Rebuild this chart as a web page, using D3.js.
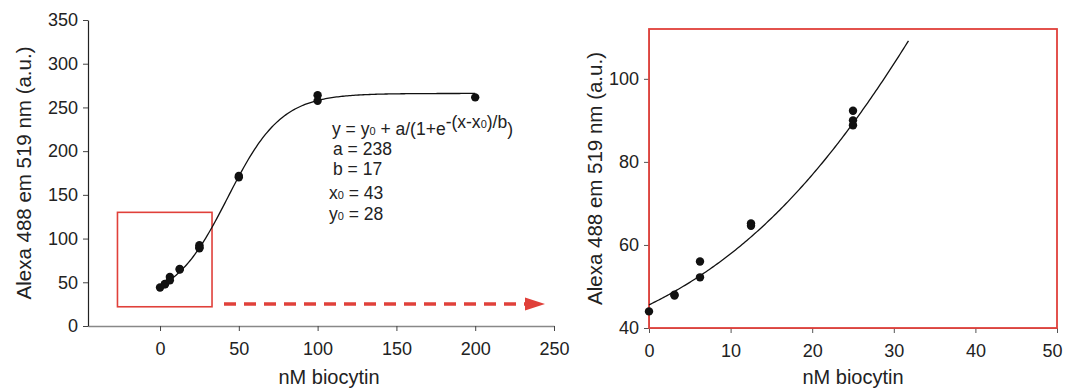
<!DOCTYPE html>
<html><head><meta charset="utf-8">
<script src="https://cdn.jsdelivr.net/npm/d3@7"></script>
<style>
html,body{margin:0;padding:0;background:#fff;}
svg{display:block;}
text{font-family:"Liberation Sans",Arial,Helvetica,sans-serif;fill:#222;}
</style></head>
<body>
<svg id="c" width="1065" height="388"></svg>
<script>
// ---- data ----
const xValues = [0, 3.125, 3.125, 6.25, 6.25, 12.5, 12.5, 25, 25, 25, 50, 50, 100, 100, 200];
const yValues = [44, 48, 47.8, 56, 52.2, 65.2, 64.6, 92.3, 90, 88.8, 170, 171.5, 264, 257.5, 261.5];
const fitParams = {a: 238, b: 17, x0: 43, y0: 28};
const leftXTicks = [0, 50, 100, 150, 200, 250];
const leftYTicks = [0, 50, 100, 150, 200, 250, 300, 350];
const rightXTicks = [0, 10, 20, 30, 40, 50];
const rightYTicks = [40, 60, 80, 100];
const zoomBox = {x1: -27, x2: 33, y1: 22, y2: 130};
const eqLines = ["a = 238", "b = 17"];
const xLabel = "nM biocytin";
const yLabel = "Alexa 488 em 519 nm (a.u.)";

const fit = x => fitParams.y0 + fitParams.a / (1 + Math.exp(-(x - fitParams.x0) / fitParams.b));

const svg = d3.select("#c");
const red = "#e0403a";

// ---- left chart ----
const L = {left: 88, right: 554, top: 20, bottom: 326};
const xL = d3.scaleLinear().domain([-45.7, 250]).range([L.left, L.right]);
const yL = d3.scaleLinear().domain([0, 350]).range([L.bottom, L.top]);

const gxL = svg.append("g").attr("transform", `translate(0,${L.bottom})`)
  .call(d3.axisBottom(xL).tickValues(leftXTicks).tickSize(5).tickSizeOuter(0).tickPadding(11));
gxL.select(".domain").attr("stroke", "#888").attr("stroke-width", 1.5);
gxL.selectAll(".tick line").attr("stroke", "#444");
gxL.selectAll(".tick text").style("font-size", "18px").attr("fill", "#1a1a1a");

const gyL = svg.append("g").attr("transform", `translate(${L.left},0)`)
  .call(d3.axisLeft(yL).tickValues(leftYTicks).tickSize(5).tickSizeOuter(0).tickPadding(5));
gyL.select(".domain").attr("stroke", "#222").attr("stroke-width", 1.2);
gyL.selectAll(".tick line").attr("stroke", "#444");
gyL.selectAll(".tick text").style("font-size", "18px").attr("fill", "#1a1a1a");

// zoom box
svg.append("rect")
  .attr("x", xL(zoomBox.x1)).attr("y", yL(zoomBox.y2))
  .attr("width", xL(zoomBox.x2) - xL(zoomBox.x1)).attr("height", yL(zoomBox.y1) - yL(zoomBox.y2))
  .attr("fill", "none").attr("stroke", red).attr("stroke-width", 1.6);

// curve
const curveL = d3.range(0, 200.01, 1).map(x => [x, fit(x)]);
svg.append("path").datum(curveL)
  .attr("d", d3.line().x(d => xL(d[0])).y(d => yL(d[1])))
  .attr("fill", "none").attr("stroke", "#111").attr("stroke-width", 1.3);

svg.append("g").selectAll("circle").data(xValues.map((x, i) => [x, yValues[i]]))
  .join("circle").attr("cx", d => xL(d[0])).attr("cy", d => yL(d[1])).attr("r", 4.2).attr("fill", "#111");

// dashed arrow
const arrowY = 304;
svg.append("line").attr("x1", 224).attr("x2", 526).attr("y1", arrowY).attr("y2", arrowY)
  .attr("stroke", red).attr("stroke-width", 3.5).attr("stroke-dasharray", "12,8");
svg.append("path").attr("d", `M525,${arrowY - 6.5} L545,${arrowY} L525,${arrowY + 6.5} Z`).attr("fill", red);

// equation
const eq = svg.append("text").attr("x", 332).attr("y", 135).style("font-size", "17.5px");
eq.append("tspan").text("y = y");
eq.append("tspan").text("0").style("font-size", "11px");
eq.append("tspan").text(" + a/(1+e");
eq.append("tspan").attr("dy", -7).text("-(x-x");
eq.append("tspan").text("0").style("font-size", "11px");
eq.append("tspan").text(")/b");
eq.append("tspan").attr("dy", 7).text(")");

svg.append("text").attr("x", 333).attr("y", 154.5).style("font-size", "17.5px").text(eqLines[0]);
svg.append("text").attr("x", 333).attr("y", 174.5).style("font-size", "17.5px").text(eqLines[1]);
const t3 = svg.append("text").attr("x", 329).attr("y", 199).style("font-size", "17.5px");
t3.append("tspan").text("x"); t3.append("tspan").text("0").style("font-size", "11px");
t3.append("tspan").text(" = " + fitParams.x0);
const t4 = svg.append("text").attr("x", 329).attr("y", 220).style("font-size", "17.5px");
t4.append("tspan").text("y"); t4.append("tspan").text("0").style("font-size", "11px");
t4.append("tspan").text(" = " + fitParams.y0);

svg.append("text").attr("text-anchor", "middle")
  .attr("transform", `translate(31,${(L.top + L.bottom) / 2}) rotate(-90)`)
  .style("font-size", "20.5px").text(yLabel);
svg.append("text").attr("text-anchor", "middle").attr("x", (L.left + 570) / 2).attr("y", 384)
  .style("font-size", "20px").text(xLabel);

// ---- right chart ----
const R = {left: 649, right: 1057, top: 29, bottom: 328};
const xR = d3.scaleLinear().domain([0, 50]).range([R.left, R.right]);
const yR = d3.scaleLinear().domain([40, 112]).range([R.bottom, R.top]);

const gxR = svg.append("g").attr("transform", `translate(0,${R.bottom})`)
  .call(d3.axisBottom(xR).tickValues(rightXTicks).tickSize(5).tickSizeOuter(0).tickPadding(11));
gxR.select(".domain").attr("stroke", "#888");
gxR.selectAll(".tick line").attr("stroke", "#555");
gxR.selectAll(".tick text").style("font-size", "18px").attr("fill", "#1a1a1a");
gxR.selectAll(".tick text").filter(d => d === 50).attr("dx", -5);

const gyR = svg.append("g").attr("transform", `translate(${R.left},0)`)
  .call(d3.axisLeft(yR).tickValues(rightYTicks).tickSize(5).tickSizeOuter(0).tickPadding(5));
gyR.select(".domain").attr("stroke", "#888");
gyR.selectAll(".tick line").attr("stroke", "#555");
gyR.selectAll(".tick text").style("font-size", "18px").attr("fill", "#1a1a1a");

svg.append("rect").attr("x", R.left).attr("y", R.top)
  .attr("width", R.right - R.left).attr("height", R.bottom - R.top)
  .attr("fill", "none").attr("stroke", red).attr("stroke-width", 1.8);

const curveR = d3.range(0, 31.81, 0.2).map(x => [x, fit(x)]);
svg.append("path").datum(curveR)
  .attr("d", d3.line().x(d => xR(d[0])).y(d => yR(d[1])))
  .attr("fill", "none").attr("stroke", "#111").attr("stroke-width", 1.3);

svg.append("g").selectAll("circle").data(xValues.map((x, i) => [x, yValues[i]]).filter(d => d[0] <= 50 && d[1] <= 112))
  .join("circle").attr("cx", d => xR(d[0])).attr("cy", d => yR(d[1])).attr("r", 4.2).attr("fill", "#111");

svg.append("text").attr("text-anchor", "middle")
  .attr("transform", `translate(602,${(R.top + R.bottom) / 2}) rotate(-90)`)
  .style("font-size", "20.5px").text(yLabel);
svg.append("text").attr("text-anchor", "middle").attr("x", (R.left + R.right) / 2).attr("y", 384)
  .style("font-size", "20px").text(xLabel);
</script>
</body></html>
